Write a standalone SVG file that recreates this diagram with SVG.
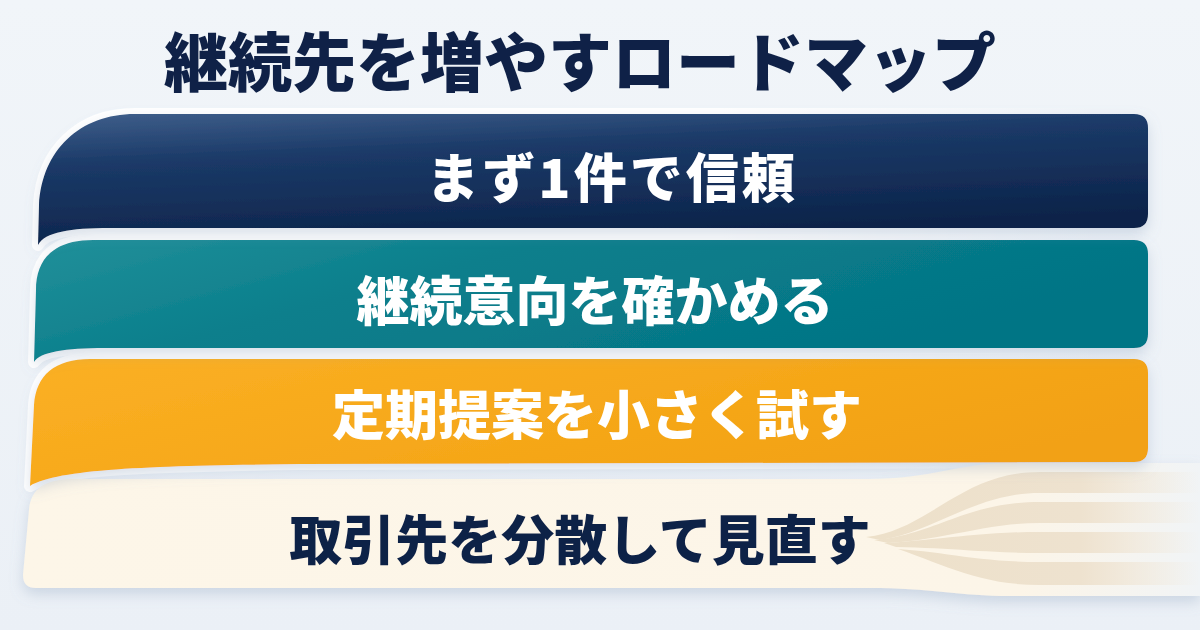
<svg xmlns="http://www.w3.org/2000/svg" width="1200" height="630" viewBox="0 0 1200 630">
  <defs>
    <linearGradient id="bg" x1="0" y1="0" x2="0" y2="1">
      <stop offset="0" stop-color="#f1f5f9"/>
      <stop offset="1" stop-color="#ebf0f6"/>
    </linearGradient>
    <linearGradient id="navy" x1="0" y1="0" x2="0.35" y2="1">
      <stop offset="0" stop-color="#3f5f8b"/>
      <stop offset="0.35" stop-color="#1b3a68"/>
      <stop offset="1" stop-color="#0c2349"/>
    </linearGradient>
    <linearGradient id="teal" x1="0" y1="0" x2="1" y2="0.4">
      <stop offset="0" stop-color="#22909a"/>
      <stop offset="0.4" stop-color="#0b7f8c"/>
      <stop offset="1" stop-color="#037485"/>
    </linearGradient>
    <linearGradient id="orange" x1="0" y1="0" x2="1" y2="0.5">
      <stop offset="0" stop-color="#fbb024"/>
      <stop offset="1" stop-color="#f2a112"/>
    </linearGradient>
    <linearGradient id="cream" gradientUnits="userSpaceOnUse" x1="0" y1="0" x2="1200" y2="0">
      <stop offset="0" stop-color="#fdf6e8"/>
      <stop offset="0.85" stop-color="#fcf5e8"/>
      <stop offset="1" stop-color="#f1f4f6"/>
    </linearGradient>
    <linearGradient id="strip" gradientUnits="userSpaceOnUse" x1="860" y1="0" x2="1200" y2="0">
      <stop offset="0" stop-color="#ede0c9"/>
      <stop offset="0.65" stop-color="#eee2cf"/>
      <stop offset="1" stop-color="#efe4d2" stop-opacity="0"/>
    </linearGradient>
    <linearGradient id="halo" gradientUnits="userSpaceOnUse" x1="0" y1="0" x2="1200" y2="0">
      <stop offset="0" stop-color="#ffffff"/>
      <stop offset="0.6" stop-color="#ffffff"/>
      <stop offset="0.92" stop-color="#ffffff" stop-opacity="0"/>
    </linearGradient>
    <filter id="shadow" x="-5%" y="-10%" width="110%" height="130%">
      <feDropShadow dx="0" dy="6" stdDeviation="7" flood-color="#7f95b3" flood-opacity="0.3"/>
    </filter>
    <style>
      .title { font-family: "Noto Sans CJK JP", "Noto Sans", sans-serif; font-weight: 900; font-size: 64px; fill: #0f2147; }
      .lbl { font-family: "Noto Sans CJK JP", "Noto Sans", sans-serif; font-weight: 900; font-size: 53px; text-anchor: middle; dominant-baseline: central; }
      .w { fill: #ffffff; }
      .d { fill: #0f2147; }
      .halo { fill: none; stroke: url(#halo); stroke-width: 12; stroke-linejoin: round; }
    </style>
  </defs>

  <rect width="1200" height="630" fill="url(#bg)"/>

  <g id="title">
    <text class="title" x="164" y="86">継続先を増やすロードマップ</text>
  </g>

  <g id="halos">
    <path class="halo" d="M38 245 L39 205 C42 150 80 114 135 114 L1134 114 Q1148 114 1148 128 L1148 214 Q1148 228 1134 228 L110 228 C70 228 45 232 38 245 Z"/>
    <path class="halo" d="M34 362 L36 290 C36 258 55 240 93 240 L1134 240 Q1148 240 1148 254 L1148 334 Q1148 348 1134 348 L105 348 C65 348 40 352 34 362 Z"/>
    <path class="halo" d="M30 486 L34 405 C36 375 55 359 90 359 L1134 359 Q1148 359 1148 373 L1148 448 Q1148 462 1134 462 L300 464 C160 466 60 468 30 486 Z"/>
  </g>

  <g id="band4" filter="url(#shadow)">
    <path d="M23 575 L29 510 C31 488 45 479 75 479 L870 479 C930 479 960 463 1010 463 L1200 463 L1200 596 L1010 596 C960 596 930 588 870 588 L36 588 Q23 588 23 575 Z" fill="url(#cream)"/>
    <path d="M866 537 C930 530 960 472 1040 472 L1200 472 L1200 493 L1040 493 C975 493 935 532 880 540 Z" fill="url(#strip)"/>
    <path d="M874 540 C935 535 965 502 1040 502 L1200 502 L1200 523 L1040 523 C985 523 945 540 888 543 Z" fill="url(#strip)"/>
    <path d="M884 543 C940 540 975 532 1040 532 L1200 532 L1200 553 L1040 553 C990 553 950 548 896 547 Z" fill="url(#strip)"/>
    <path d="M898 549 C945 552 980 562 1040 562 L1200 562 L1200 585 L1040 585 C980 585 945 565 898 549 Z" fill="url(#strip)"/>
    <text class="lbl d" x="580" y="537">取引先を分散して見直す</text>
  </g>

  <g id="band3" filter="url(#shadow)">
    <path d="M30 486 L34 405 C36 375 55 359 90 359 L1134 359 Q1148 359 1148 373 L1148 448 Q1148 462 1134 462 L300 464 C160 466 60 468 30 486 Z" fill="url(#orange)"/>
    <text class="lbl w" x="597" y="412">定期提案を小さく試す</text>
  </g>

  <g id="band2" filter="url(#shadow)">
    <path d="M34 362 L36 290 C36 258 55 240 93 240 L1134 240 Q1148 240 1148 254 L1148 334 Q1148 348 1134 348 L105 348 C65 348 40 352 34 362 Z" fill="url(#teal)"/>
    <text class="lbl w" x="595" y="298">継続意向を確かめる</text>
  </g>

  <g id="band1" filter="url(#shadow)">
    <path d="M38 245 L39 205 C42 150 80 114 135 114 L1134 114 Q1148 114 1148 128 L1148 214 Q1148 228 1134 228 L110 228 C70 228 45 232 38 245 Z" fill="url(#navy)"/>
    <text class="lbl w" x="612" y="175" letter-spacing="3">まず1件で信頼</text>
  </g>

  <g id="connectors"/>
</svg>
